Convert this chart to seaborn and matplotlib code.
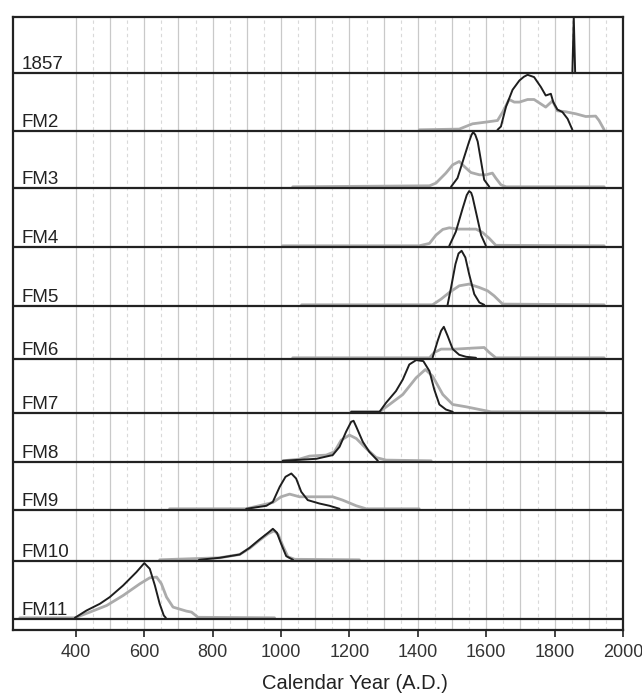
import numpy as np
import pandas as pd
import matplotlib
matplotlib.use("Agg")
import matplotlib.pyplot as plt
import matplotlib.transforms as mtransforms
import seaborn as sns

# ---------------- data ----------------
LABELS = ["1857", "FM2", "FM3", "FM4", "FM5", "FM6", "FM7", "FM8", "FM9", "FM10", "FM11"]

P1857_POST_X = [1852, 1856, 1860]
P1857_POST_Y = [0, 55, 0]

FM2_PRIOR_X = [1404, 1521, 1560, 1599, 1633, 1648, 1667, 1682, 1697, 1721, 1740, 1774, 1794, 1808, 1833, 1862, 1891, 1920, 1930, 1945]
FM2_PRIOR_Y = [0, 0.7, 6, 7.7, 9.3, 17.7, 30.3, 27.7, 27.7, 30.3, 30.3, 22.7, 29, 19, 18, 16, 13.3, 13.7, 9.3, 0]
FM2_POST_X = [1633, 1643, 1658, 1677, 1697, 1710, 1721, 1740, 1760, 1774, 1789, 1796, 1808, 1823, 1838, 1852]
FM2_POST_Y = [0, 3.3, 23.3, 40, 49.3, 53, 55, 52.7, 42.7, 34.3, 36, 27.7, 20.3, 17.7, 11, 0]

FM3_PRIOR_X = [1034, 1434, 1453, 1482, 1502, 1521, 1536, 1555, 1580, 1599, 1618, 1628, 1643, 1658, 1945]
FM3_PRIOR_Y = [0, 1, 3.7, 13.7, 22, 25.3, 20.3, 14.3, 12, 12, 13.7, 8.7, 2, 0, 0]
FM3_POST_X = [1497, 1516, 1536, 1550, 1557, 1562, 1568, 1575, 1585, 1594, 1609]
FM3_POST_Y = [0, 8.7, 30.3, 45.3, 52, 54.7, 52, 45.3, 25.3, 7, 0]

FM4_PRIOR_X = [1004, 1404, 1434, 1453, 1473, 1492, 1516, 1545, 1570, 1589, 1609, 1628, 1945]
FM4_PRIOR_Y = [0, 0, 2.4, 10.7, 16.4, 18, 16.7, 16.7, 16.7, 13.4, 7.4, 0.5, 0]
FM4_POST_X = [1492, 1511, 1531, 1543, 1550, 1556, 1560, 1572, 1585, 1599]
FM4_POST_Y = [0, 14, 37.4, 50.7, 54.7, 53, 49, 30.7, 10.7, 0]

FM5_PRIOR_X = [1060, 1443, 1468, 1492, 1521, 1550, 1580, 1604, 1623, 1648, 1945]
FM5_PRIOR_Y = [0, 0, 5.7, 12.3, 19, 20.7, 17.3, 14, 9, 0.7, 0]
FM5_POST_X = [1487, 1497, 1510, 1519, 1528, 1539, 1550, 1565, 1580, 1594]
FM5_POST_Y = [0, 17, 40.7, 51.3, 54, 47.3, 30.7, 10.7, 2.3, 0]

FM6_PRIOR_X = [1034, 1434, 1448, 1468, 1511, 1560, 1594, 1609, 1628, 1945]
FM6_PRIOR_Y = [0, 0, 5.3, 8.7, 8.7, 9.7, 10.3, 5.3, 0, 0]
FM6_POST_X = [1443, 1458, 1468, 1476, 1487, 1502, 1521, 1541, 1570]
FM6_POST_Y = [0, 17, 27, 31, 22, 8.7, 3, 1, 0]

FM7_PRIOR_X = [1205, 1288, 1317, 1356, 1395, 1422, 1443, 1473, 1502, 1541, 1580, 1614, 1945]
FM7_PRIOR_Y = [0, 0, 7.3, 17.3, 34, 42.3, 35.7, 17.3, 7.3, 5, 2.3, 0, 0]
FM7_POST_X = [1205, 1288, 1307, 1336, 1356, 1375, 1395, 1416, 1434, 1448, 1463, 1482, 1502]
FM7_POST_Y = [0, 0, 9, 20.7, 32.3, 47.3, 51.7, 50.7, 40.7, 22.3, 7.3, 2.3, 0]

FM8_PRIOR_X = [1005, 1054, 1083, 1132, 1156, 1176, 1200, 1220, 1249, 1278, 1307, 1439]
FM8_PRIOR_Y = [0, 1.7, 4.7, 5.7, 9, 20.7, 25.7, 22.3, 12.3, 3.3, 0.7, 0]
FM8_POST_X = [1005, 1054, 1103, 1151, 1171, 1190, 1205, 1212, 1220, 1239, 1258, 1283]
FM8_POST_Y = [0, 1, 2, 5.7, 14, 29, 39, 40, 34, 19, 9, 0]

FM9_PRIOR_X = [674, 898, 976, 1000, 1025, 1054, 1083, 1151, 1180, 1220, 1249, 1404]
FM9_PRIOR_Y = [0, 0, 6.3, 12, 14.7, 12, 12, 12, 8.7, 3, 0, 0]
FM9_POST_X = [898, 957, 976, 996, 1013, 1030, 1044, 1059, 1078, 1112, 1142, 1171]
FM9_POST_Y = [0, 3, 7, 22, 32, 35.3, 30.3, 17, 8.7, 5.3, 3, 0]

FM10_PRIOR_X = [645, 820, 879, 908, 937, 962, 980, 992, 1005, 1020, 1040, 1229]
FM10_PRIOR_Y = [0, 2, 5.3, 11.5, 19.5, 26, 29, 25, 14, 3, 0.5, 0]
FM10_POST_X = [760, 820, 879, 908, 937, 962, 976, 988, 1001, 1015, 1035]
FM10_POST_Y = [0, 2, 5.3, 12, 20.3, 27, 31, 27, 15.3, 3.7, 0]

FM11_PRIOR_X = [236, 397, 441, 490, 538, 587, 616, 636, 650, 665, 684, 723, 738, 757, 981]
FM11_PRIOR_Y = [0, 0, 5.7, 12.3, 22.3, 34, 40, 40.7, 34, 20.7, 10.7, 6.7, 5.7, 0.5, 0]
FM11_POST_X = [397, 431, 470, 499, 538, 577, 600, 616, 631, 645, 657, 663]
FM11_POST_Y = [0, 7.3, 14, 20.7, 32.3, 45.7, 54.7, 49, 32.3, 14, 2.3, 0]

MAJOR_TICKS = [400, 600, 800, 1000, 1200, 1400, 1600, 1800, 2000]
XLABEL = "Calendar Year (A.D.)"

PRIORS = [None, (FM2_PRIOR_X, FM2_PRIOR_Y), (FM3_PRIOR_X, FM3_PRIOR_Y), (FM4_PRIOR_X, FM4_PRIOR_Y),
          (FM5_PRIOR_X, FM5_PRIOR_Y), (FM6_PRIOR_X, FM6_PRIOR_Y), (FM7_PRIOR_X, FM7_PRIOR_Y),
          (FM8_PRIOR_X, FM8_PRIOR_Y), (FM9_PRIOR_X, FM9_PRIOR_Y), (FM10_PRIOR_X, FM10_PRIOR_Y),
          (FM11_PRIOR_X, FM11_PRIOR_Y)]
POSTS = [(P1857_POST_X, P1857_POST_Y), (FM2_POST_X, FM2_POST_Y), (FM3_POST_X, FM3_POST_Y),
         (FM4_POST_X, FM4_POST_Y), (FM5_POST_X, FM5_POST_Y), (FM6_POST_X, FM6_POST_Y),
         (FM7_POST_X, FM7_POST_Y), (FM8_POST_X, FM8_POST_Y), (FM9_POST_X, FM9_POST_Y),
         (FM10_POST_X, FM10_POST_Y), (FM11_POST_X, FM11_POST_Y)]

# ---------------- layout ----------------
sns.set_theme(style="white")
plt.rcParams["font.family"] = ["Liberation Sans", "DejaVu Sans"]

W, H = 642, 694
fig = plt.figure(figsize=(W / 100, H / 100), dpi=100)
ax = fig.add_axes([13 / W, 1 - 630 / H, 610 / W, 613 / H])

# panel baselines (pixel units above the bottom spine)
BASELINES = [557, 499, 442, 383, 324, 271, 217, 168, 120, 69, 11]
LIFT = 1.2

GREY = "#ababab"
DARK = "#1e1e1e"

trans = mtransforms.blended_transform_factory(ax.transAxes, ax.transData)
for i, lab in enumerate(LABELS):
    b = BASELINES[i]
    if PRIORS[i] is not None:
        px, py = PRIORS[i]
        df = pd.DataFrame({"year": px, "y": np.asarray(py) + b + LIFT})
        sns.lineplot(data=df, x="year", y="y", sort=False, estimator=None,
                     color=GREY, linewidth=2.0, ax=ax, legend=False, zorder=3)
    qx, qy = POSTS[i]
    df = pd.DataFrame({"year": qx, "y": np.asarray(qy) + b + LIFT})
    sns.lineplot(data=df, x="year", y="y", sort=False, estimator=None,
                 color=DARK, linewidth=1.4, ax=ax, legend=False, zorder=4)
    ax.axhline(b, color="#222222", linewidth=1.6, zorder=5)
    ax.text(0.014, b + 4, lab, transform=trans, ha="left", va="baseline",
            fontsize=13.5, color="#222222", zorder=6)

ax.set_xlim(216, 2000)
ax.set_ylim(0, 613)

ax.set_xticks(MAJOR_TICKS)
ax.set_xticklabels([str(t) for t in MAJOR_TICKS])
ax.set_xticks(list(range(450, 2000, 50)), minor=True)
ax.set_yticks([])
ax.set_xlabel(XLABEL, fontsize=14.5, color="#222222")
ax.xaxis.set_label_coords(0.56, -0.072)
ax.set_ylabel("")

# grid: solid at each century, dashed at half-centuries
for yr in range(400, 2000, 100):
    ax.axvline(yr, color="#c9c9c9", linewidth=0.9, zorder=1)
for yr in range(450, 2000, 100):
    ax.axvline(yr, color="#d9d9d9", linewidth=0.8, linestyle=(0, (3, 3)), zorder=1)

ax.tick_params(axis="x", which="major", direction="out", length=5, width=1.2,
               color="#222222", labelsize=13, labelcolor="#333333", pad=5, bottom=True)
ax.tick_params(axis="x", which="minor", length=0)
for s in ax.spines.values():
    s.set_visible(True)
    s.set_color("#222222")
    s.set_linewidth(1.6)

fig.savefig("out.png", dpi=100, facecolor="white")
